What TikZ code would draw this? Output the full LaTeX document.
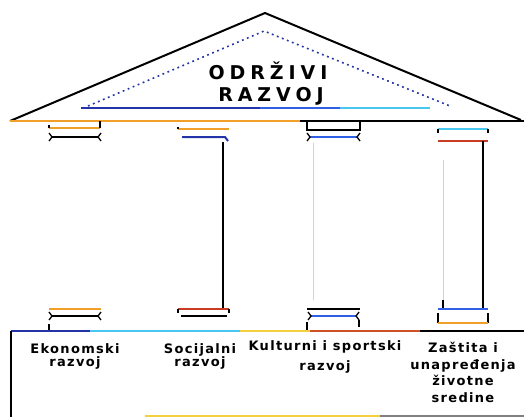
\documentclass[tikz,border=0pt]{standalone}
\usepackage{fontspec}
\setmainfont{DejaVu Sans}
\newfontfamily\labfont[LetterSpace=10]{DejaVu Sans}
\newfontfamily\ttlfont[LetterSpace=26]{DejaVu Sans}
\definecolor{roofO}{HTML}{F0A028}
\definecolor{navyc}{HTML}{2434A8}
\definecolor{bluec}{HTML}{3060E8}
\definecolor{skyc}{HTML}{48C8F0}
\definecolor{redc}{HTML}{C83C24}
\definecolor{yelc}{HTML}{F4D040}
\begin{document}
\begin{tikzpicture}[x=1pt,y=-1pt,
  lw/.style={line width=2pt},
  thinlw/.style={line width=1.3pt},
  faint/.style={line width=0.9pt, gray!35},
  dotline/.style={line width=1.6pt, dash pattern=on 1.8pt off 3.6pt},
  lab/.style={font=\labfont\bfseries\fontsize{13}{13.5}\selectfont, align=center, inner sep=0pt, anchor=north},
  ttl/.style={font=\ttlfont\bfseries\fontsize{19}{22}\selectfont, inner sep=0pt, anchor=base}]
\useasboundingbox (0,0) rectangle (524,417);
% roof
\draw[lw, line join=round] (10,121) -- (265,13) -- (521,120);
\draw[lw, roofO] (10,121) -- (300,121);
\draw[lw, black] (300,121) -- (524,121);
\draw[dotline, navyc] (88,106) -- (264,31) -- (450,106);
\draw[lw, navyc] (81,108) -- (260,108);
\draw[lw, bluec] (260,108) -- (340,108);
\draw[lw, skyc] (340,108) -- (430,108);
\node[ttl] (t1) at (268,80) {ODRŽIVI};
\node[ttl] (t2) at (271,102) {RAZVOJ};
% column 1
\draw[lw, roofO] (49,128) -- (100,128);
\draw[thinlw] (49,125) -- (49,128);
\draw[lw] (100,121) -- (100,128);
\draw[lw] (52,137) -- (98,137);
\draw[thinlw] (49,133) -- (52,137) -- (49,141);
\draw[thinlw] (101,133) -- (98,137) -- (101,141);
\draw[lw, roofO] (49,309) -- (101,309);
\draw[lw] (52,316) -- (98,316);
\draw[thinlw] (49,312) -- (52,316) -- (49,320);
\draw[thinlw] (101,312) -- (98,316) -- (101,320);
\draw[thinlw] (49,324) -- (49,331);
% column 2
\draw[lw, roofO] (178,129) -- (229,129);
\draw[thinlw] (178,127) -- (178,129);
\draw[lw, navyc] (182,137) -- (225,137) -- (228,141);
\draw[lw] (223,142) -- (223,309);
\draw[lw, redc] (178,309) -- (229,309);
\draw[thinlw] (178,309) -- (178,313);
\draw[thinlw] (229,309) -- (229,313);
\draw[lw] (181,316) -- (227,316);
% column 3
\draw[lw] (307,121) -- (307,130) -- (360,130) -- (360,121);
\draw[lw, bluec] (310,137) -- (357,137);
\draw[thinlw] (307,133) -- (310,137) -- (307,141);
\draw[thinlw] (360,133) -- (357,137) -- (360,141);
\draw[faint] (313,143) -- (313,300);
\draw[lw] (307,309) -- (360,309);
\draw[lw, bluec] (311,316) -- (356,316);
\draw[thinlw] (308,312) -- (311,316) -- (308,320);
\draw[thinlw] (359,312) -- (356,316) -- (359,320);
\draw[thinlw] (307,322) -- (307,331);
\draw[thinlw] (359,320) -- (359,327);
% column 4
\draw[lw, skyc] (438,129) -- (488,129);
\draw[thinlw] (438,129) -- (438,133);
\draw[thinlw] (488,129) -- (488,133);
\draw[lw, redc] (438,141) -- (488,141);
\draw[lw] (483,141) -- (483,309);
\draw[faint] (443,160) -- (443,300);
\draw[thinlw] (443,300) -- (443,309);
\draw[lw, bluec] (438,309) -- (488,309);
\draw[thinlw] (438,313) -- (438,323);
\draw[thinlw] (488,313) -- (488,323);
\draw[lw, roofO] (438,323) -- (488,323);
% base
\draw[lw, navyc] (11,331) -- (90,331);
\draw[lw, skyc] (90,331) -- (240,331);
\draw[lw, yelc] (240,331) -- (310,331);
\draw[lw, redc!80!roofO] (310,331) -- (420,331);
\draw[lw] (420,331) -- (524,331);
\draw[lw] (11,331) -- (11,417);
\draw[thinlw, yelc] (145,416) -- (380,416);
\draw[thinlw, gray] (380,416) -- (524,416);
% labels
\node[lab] (l1) at (75,343) {Ekonomski\\razvoj};
\node[lab] (l2) at (200,343) {Socijalni\\razvoj};
\node[lab, font=\labfont\bfseries\fontsize{13}{20}\selectfont] (l3) at (325,340) {Kulturni i sportski\\razvoj};
\node[lab, font=\labfont\bfseries\fontsize{13}{16.6}\selectfont] (l4) at (463,342) {Zaštita i\\unapređenja\\životne\\sredine};
\end{tikzpicture}
\end{document}
